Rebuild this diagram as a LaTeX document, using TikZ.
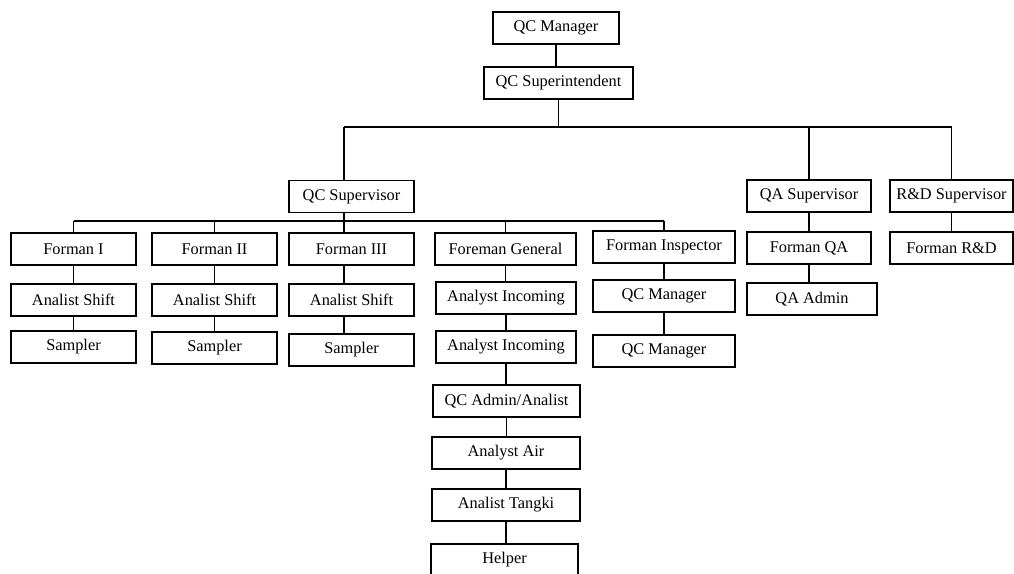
\documentclass[tikz,border=0pt]{standalone}
\usepackage{fontspec}
\setmainfont{Liberation Serif}
\usetikzlibrary{calc}

\tikzset{
    orgbox/.style={draw, line width=0.8pt, minimum height=0.64cm, inner sep=1pt,
        font=\fontsize{9.3}{11}\selectfont},
    link/.style={line width=0.6pt}
}

\begin{document}
\begin{tikzpicture}[x=0.02cm, y=-0.02cm]
        \useasboundingbox (0,0) rectangle (1014,574);
        \clip (0,0) rectangle (1014,574);
        % Top of the chart
        \node[orgbox, minimum width=2.52cm] (qcman) at (556,28) {QC Manager};
        \node[orgbox, minimum width=2.98cm] (qcsup) at (558.5,83) {QC Superintendent};
        % Supervisors
        \node[orgbox, minimum width=2.5cm] (qcsv) at (351.5,196.5) {QC Supervisor};
        \node[orgbox, minimum width=2.48cm] (qasv) at (809,196) {QA Supervisor};
        \node[orgbox, minimum width=2.46cm] (rdsv) at (951.5,196) {R\&D Supervisor};
        % Foremen
        \node[orgbox, minimum width=2.5cm] (fa) at (73.5,249) {Forman I};
        \node[orgbox, minimum width=2.5cm] (fb) at (214.5,249) {Forman II};
        \node[orgbox, minimum width=2.5cm] (fc) at (351.5,249) {Forman III};
        \node[orgbox, minimum width=2.82cm] (fgen) at (505.5,249) {Foreman General};
        \node[orgbox, minimum width=2.84cm] (finsp) at (664,247) {Forman Inspector};
        \node[orgbox, minimum width=2.48cm] (fqa) at (809,248) {Forman QA};
        \node[orgbox, minimum width=2.46cm] (frd) at (951.5,248) {Forman R\&D};
        % Second level under the foremen
        \node[orgbox, minimum width=2.5cm] (ana1) at (73.5,300) {Analist Shift};
        \node[orgbox, minimum width=2.5cm] (ana2) at (214.5,300) {Analist Shift};
        \node[orgbox, minimum width=2.5cm] (ana3) at (351.5,300) {Analist Shift};
        \node[orgbox, minimum width=2.8cm] (ainc1) at (506,298) {Analyst Incoming};
        \node[orgbox, minimum width=2.84cm] (qcm1) at (664,296) {QC Manager};
        \node[orgbox, minimum width=2.6cm] (qaadm) at (812,299) {QA Admin};
        % Third level
        \node[orgbox, minimum width=2.5cm] (samp1) at (73.5,347) {Sampler};
        \node[orgbox, minimum width=2.5cm] (samp2) at (214.5,348) {Sampler};
        \node[orgbox, minimum width=2.5cm] (samp3) at (351.5,350) {Sampler};
        \node[orgbox, minimum width=2.8cm] (ainc2) at (506,347) {Analyst Incoming};
        \node[orgbox, minimum width=2.84cm] (qcm2) at (664,351) {QC Manager};
        % General foreman column
        \node[orgbox, minimum width=2.94cm] (qcadm) at (506.5,401) {QC Admin/Analist};
        \node[orgbox, minimum width=2.96cm] (air) at (506,453) {Analyst Air};
        \node[orgbox, minimum width=2.96cm] (tangki) at (506,505) {Analist Tangki};
        \node[orgbox, minimum width=2.94cm] (helper) at (504.5,560) {Helper};
        % Bars
        \coordinate (tbar) at (560,127);
        \coordinate (sbar) at (344,221);
        % Manager to superintendent
        \draw[link] (qcman.south) -- (qcman.south |- qcsup.north);
        % Superintendent to supervisors
        \draw[link] (qcsup.south) -- (qcsup.south |- tbar);
        \draw[link] (tbar -| sbar) -- (tbar -| rdsv);
        \draw[link] (tbar -| sbar) -- (sbar |- qcsv.north);
        \foreach \n in {qasv, rdsv} {
            \draw[link] (tbar -| \n) -- (\n.north);
        }
        % QC supervisor to foremen
        \draw[link] (sbar |- qcsv.south) -- (sbar);
        \draw[link] (sbar -| fa) -- (sbar -| finsp);
        \draw[link] (sbar) -- (sbar |- fc.north);
        \foreach \n in {fa, fb, fgen, finsp} {
            \draw[link] (sbar -| \n) -- (\n.north);
        }
        % Chains
        \draw[link] (sbar |- fc.south) -- (sbar |- ana3.north);
        \draw[link] (sbar |- ana3.south) -- (sbar |- samp3.north);
        \foreach \a/\b in {fa/ana1, ana1/samp1, fb/ana2, ana2/samp2,
                fgen/ainc1, ainc1/ainc2, ainc2/qcadm, qcadm/air, air/tangki, tangki/helper,
                finsp/qcm1, qcm1/qcm2, qasv/fqa, fqa/qaadm, rdsv/frd} {
            \draw[link] (\a.south) -- (\a.south |- \b.north);
        }
\end{tikzpicture}
\end{document}
